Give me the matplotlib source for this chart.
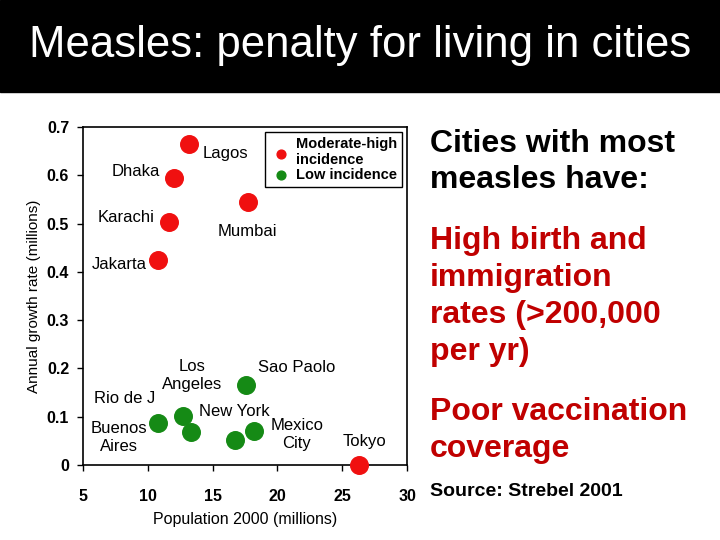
import numpy as np
import matplotlib
matplotlib.use("Agg")
import matplotlib.pyplot as plt
from matplotlib.patches import Rectangle

plt.rcParams['font.family'] = ['Liberation Sans', 'DejaVu Sans']

# Population 2000 (millions) vs annual growth rate (millions)
high_cities = ["Lagos", "Dhaka", "Karachi", "Jakarta", "Mumbai", "Tokyo"]
high_pop = [13.2, 12.0, 11.6, 10.8, 17.7, 26.3]
high_growth = [0.665, 0.594, 0.504, 0.424, 0.545, 0.0]

low_cities = ["Sao Paolo", "Buenos Aires", "Los Angeles", "New York", "Rio de J", "Mexico City"]
low_pop = [17.6, 10.8, 12.7, 13.3, 16.7, 18.2]
low_growth = [0.166, 0.087, 0.101, 0.068, 0.052, 0.071]

# label text and where it sits (data coords)
labels = ["Lagos", "Dhaka", "Karachi", "Jakarta", "Mumbai", "Tokyo",
          "Los\nAngeles", "Sao Paolo", "Rio de J", "New York", "Buenos\nAires", "Mexico\nCity"]
label_x = [16.0, 9.1, 8.3, 7.8, 17.7, 26.7, 13.4, 21.5, 8.2, 16.7, 7.8, 21.5]
label_y = [0.646, 0.608, 0.513, 0.415, 0.484, 0.049, 0.186, 0.201, 0.137, 0.111, 0.057, 0.064]

xticks = [5, 10, 15, 20, 25, 30]
yticks = [0, 0.1, 0.2, 0.3, 0.4, 0.5, 0.6, 0.7]

red = "#f01010"
green = "#158a15"
darkred = "#c00000"

fig = plt.figure(figsize=(7.2, 5.4), dpi=100)
fig.patches.append(Rectangle((0, 0.8296), 1, 0.1704, transform=fig.transFigure,
                             color="black", zorder=0))
fig.text(0.5, 0.915, "Measles: penalty for living in cities", color="white",
         ha="center", va="center", fontsize=31.5)

ax = fig.add_axes([0.1153, 0.1389, 0.45, 0.626])
ax.scatter(high_pop, high_growth, s=160, color=red, zorder=3,
           label="Moderate-high\nincidence", clip_on=False)
ax.scatter(low_pop, low_growth, s=160, color=green, zorder=3,
           label="Low incidence", clip_on=False)

for t, x, y in zip(labels, label_x, label_y):
    ax.text(x, y, t, ha="center", va="center", fontsize=12, linespacing=1.25)

ax.set_xlim(5, 30)
ax.set_ylim(0, 0.7)
ax.set_xticks(xticks)
ax.set_yticks(yticks)
ax.set_yticklabels(["0", "0.1", "0.2", "0.3", "0.4", "0.5", "0.6", "0.7"])
ax.tick_params(direction="out", length=4, width=1, labelsize=11.5)
ax.tick_params(axis="x", pad=13)
ax.tick_params(axis="y", pad=6)
for lab in ax.get_xticklabels() + ax.get_yticklabels():
    lab.set_fontweight("bold")
for sp in ax.spines.values():
    sp.set_linewidth(1.2)
ax.set_xlabel("Population 2000 (millions)", fontsize=11.5, labelpad=6)
ax.set_ylabel("Annual growth rate (millions)", fontsize=11, labelpad=4)

leg = ax.legend(loc="upper right", bbox_to_anchor=(0.985, 0.985), fancybox=False,
                edgecolor="black", framealpha=1, markerscale=0.5,
                handletextpad=0.2, borderpad=0.35, labelspacing=0.05,
                borderaxespad=0, prop={"weight": "bold", "size": 10.5},
                handlelength=1.6)
leg.get_frame().set_linewidth(1)

fig.text(0.597, 0.70, "Cities with most\nmeasles have:", fontsize=23,
         fontweight="bold", va="center", ha="left", linespacing=1.28)
fig.text(0.597, 0.451, "High birth and\nimmigration\nrates (>200,000\nper yr)",
         fontsize=23, fontweight="bold", color=darkred, va="center", ha="left",
         linespacing=1.3)
fig.text(0.597, 0.202, "Poor vaccination\ncoverage", fontsize=23,
         fontweight="bold", color=darkred, va="center", ha="left", linespacing=1.3)
fig.text(0.597, 0.089, "Source: Strebel 2001", fontsize=14,
         fontweight="bold", va="center", ha="left")

fig.savefig("out.png", dpi=100)
